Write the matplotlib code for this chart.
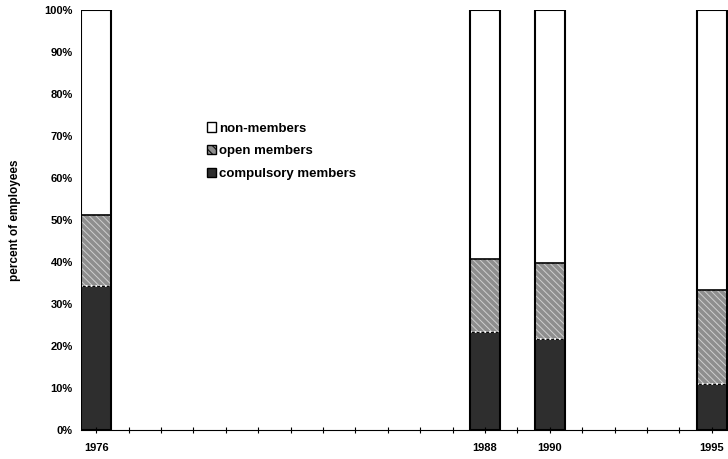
import numpy as np
import matplotlib.pyplot as plt
from matplotlib.patches import Patch

# Survey years and shares of employees (%)
years = [1976, 1988, 1990, 1995]
compulsory = [34.3, 23.4, 21.6, 11.0]
open_members = [16.9, 17.3, 18.2, 22.3]
non_members = [100 - c - o for c, o in zip(compulsory, open_members)]

plt.rcParams['font.family'] = ['Liberation Sans', 'DejaVu Sans']
plt.rcParams['hatch.linewidth'] = 0.7

fig = plt.figure(figsize=(7.28, 4.59), dpi=100)
ax = fig.add_axes([81 / 728, 1 - 430 / 459, 647 / 728, 420 / 459])

w = 0.93
bottom2 = np.array(compulsory)
bottom3 = bottom2 + np.array(open_members)
ax.bar(years, compulsory, width=w, color='#2e2e2e', edgecolor='black', linewidth=1.2)
# hatched segment: hatch takes the edge colour, so outline it separately
ax.bar(years, open_members, width=w, bottom=bottom2, color='#8e8e8e', edgecolor='#cfcfcf',
       linewidth=0, hatch='\\\\\\\\\\')
ax.bar(years, open_members, width=w, bottom=bottom2, fill=False, edgecolor='white',
       linewidth=1.3, linestyle=':')
ax.bar(years, non_members, width=w, bottom=bottom3, color='white', edgecolor='black', linewidth=1.2)
ax.bar(years, [100] * len(years), width=w, fill=False, edgecolor='black', linewidth=1.5)

ax.set_xlim(1975.53, 1995.5)
ax.set_ylim(0, 100)
ax.set_xticks(years)
ax.set_xticklabels([str(y) for y in years], fontsize=8, fontweight='bold')
ax.set_xticks(range(1976, 1996), minor=True)
ax.tick_params(axis='x', which='both', direction='inout', length=5, width=0.8, pad=7)
ax.set_yticks(range(0, 101, 10))
ax.set_yticklabels([f'{v}%' for v in range(0, 101, 10)], fontsize=8, fontweight='bold')
ax.tick_params(axis='y', length=0, pad=6)
for s in ['top', 'right', 'left']:
    ax.spines[s].set_visible(False)
ax.spines['bottom'].set_linewidth(0.8)
ax.set_ylabel('percent of employees', fontsize=8.5, fontweight='bold', labelpad=17)

handles = [Patch(facecolor='white', edgecolor='black', label='non-members'),
           Patch(facecolor='#8e8e8e', edgecolor='black', hatch='\\\\\\\\', label='open members'),
           Patch(facecolor='#2e2e2e', edgecolor='black', label='compulsory members')]
leg = ax.legend(handles=handles, loc='upper left', bbox_to_anchor=(0.184, 0.748), frameon=False,
                borderpad=0, handlelength=0.68, handleheight=0.68,
                handletextpad=0.25, labelspacing=0.8, prop={'size': 9.5, 'weight': 'bold'})

fig.savefig('out.png', dpi=100)
